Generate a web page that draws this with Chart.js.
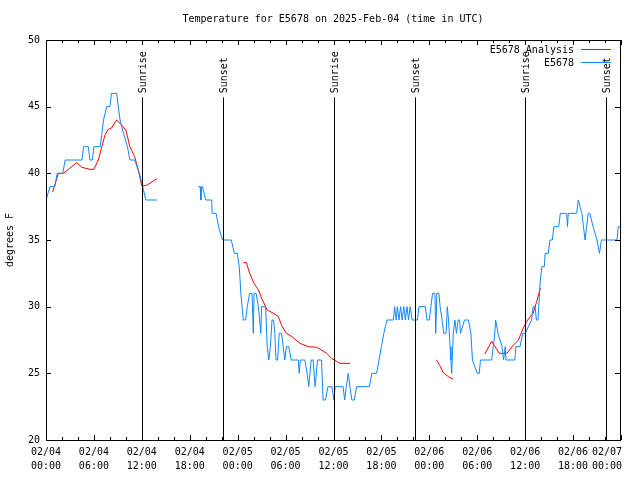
<!DOCTYPE html>
<html>
<head>
<meta charset="utf-8">
<script src="https://cdn.jsdelivr.net/npm/chart.js@4.4.1/dist/chart.umd.min.js"></script>
<style>
	html, body { margin: 0; padding: 0; background: #fff; }
</style>
</head>
<body>
<canvas id="myChart" width="640" height="480"></canvas>
<script>
	// hours since 02/04 00:00 UTC, temperatures in F (null = gap)
	var obsHours = [
		0.0, 0.5, 1.1, 1.4, 2.1, 2.4, 4.5, 4.7, 5.3, 5.5, 5.8, 6.0, 6.8, 7.0, 7.2, 7.6, 8.0, 8.2, 8.85, 9.05,
		9.27, 9.7, 10.2, 10.5, 11.1, 11.7, 12.1, 12.5, 13.9, 16.0,
		19.07, 19.3, 19.4, 19.5, 19.6, 20.0, 20.75, 20.8, 21.3, 21.6, 22.1, 23.2, 23.6, 23.95, 24.2, 24.4, 24.7, 25.0, 25.2, 25.5,
		25.8, 25.96, 26.05, 26.3, 26.6, 26.9, 27.0, 27.5, 27.7, 27.9, 28.1, 28.3, 28.5, 28.65, 28.8, 29.0, 29.2, 29.5, 29.7, 29.9,
		30.1, 30.4, 30.7, 31.6, 31.7, 31.85, 32.4, 32.7, 32.9, 33.2, 33.45, 33.7, 34.0, 34.5, 34.7, 35.0, 35.3, 35.8, 36.06, 36.2,
		37.2, 37.4, 37.6, 37.85, 38.05, 38.3, 38.6, 38.9, 40.5, 40.8, 41.4, 41.7, 42.0, 42.3, 42.7, 43.5, 43.65, 43.85, 44.0, 44.2,
		44.4, 44.6, 44.8, 45.0, 45.2, 45.4, 45.6, 45.85, 46.5, 46.7, 47.5, 47.7, 48.0, 48.2, 48.4, 48.7, 48.8, 48.95, 49.2, 49.35,
		49.6, 49.8, 50.1, 50.25, 50.4, 50.6, 50.7, 50.8, 51.0, 51.2, 51.4, 51.6, 51.8, 51.9, 52.4, 52.9, 53.2, 53.4, 54.0, 54.25,
		54.4, 55.8, 56.0, 56.2, 56.3, 56.6, 57.1, 57.3, 57.5, 57.6, 58.7, 58.85, 59.35, 59.7, 60.0, 60.8, 61.0, 61.25, 61.4, 61.6,
		61.7, 61.9, 62.1, 62.4, 62.5, 62.9, 63.1, 63.4, 63.6, 64.2, 64.4, 65.2, 65.3, 65.4, 66.45, 66.65, 67.1, 67.3, 67.5, 67.7,
		67.9, 68.1, 68.5, 69.0, 69.3, 69.55, 69.8, 71.5, 71.65, 72.0
	];
	var obsTemps = [
		38, 39, 39, 40, 40, 41, 41, 42, 42, 41, 41, 42, 42, 43, 44, 45, 45, 46, 46, 45,
		44, 43, 42, 41, 41, 40, 39, 38, 38, null,
		39, 39, 38, 39, 39, 38, 38, 37, 37, 36, 35, 35, 34, 34, 33, 31, 29, 29, 30, 31,
		31, 28, 31, 31, 30, 28, 30, 30, 27, 26, 27, 29, 29, 28, 26, 26, 28, 28, 27, 26,
		27, 27, 26, 26, 25, 26, 26, 25, 24, 26, 26, 24, 26, 26, 23, 23, 24, 24, 23, 24,
		24, 23, 24, 25, 24, 23, 23, 24, 24, 25, 25, 26, 27, 28, 29, 29, 30, 29, 30, 29,
		30, 29, 30, 29, 30, 29, 30, 29, 29, 30, 30, 29, 29, 30, 31, 31, 28, 31, 31, 30,
		29, 28, 28, 30, 29, 27, 26, 25, 28, 29, 28, 29, 29, 28, 29, 29, 28, 26, 25, 25,
		26, 26, 27, 28, 29, 28, 27, 26, 27, 26, 26, 27, 27, 28, 28, 29, 30, 30, 29, 29,
		30, 32, 33, 33, 34, 34, 35, 35, 36, 36, 37, 37, 36, 37, 37, 38, 37, 36, 35, 36,
		37, 37, 36, 35, 34, 35, 35, 35, 36, 36
	];
	var anaHours = [
		0.83, 1.55, 2.2, 3.0, 3.85, 4.5, 5.5, 6.0, 6.55, 7.0, 7.4, 7.8, 8.2, 8.85, 9.27, 10.0, 10.5, 11.1, 11.55, 12.0,
		12.6, 13.9, 18.0,
		24.7, 25.1, 25.5, 26.05, 26.6, 27.1, 27.7, 28.5, 29.1, 29.5, 30.1, 30.8, 31.8, 32.85, 33.9, 34.5, 35.15, 35.8, 36.4, 36.8,
		38.1, 43.0,
		48.9, 49.3, 49.75, 50.4, 51.0, 53.0,
		54.95, 55.8, 56.76, 57.7, 58.5, 59.15, 59.77, 60.2, 60.7, 61.0, 61.45, 61.9
	];
	var anaTemps = [
		38.6, 40.0, 40.0, 40.4, 40.8, 40.45, 40.3, 40.3, 41.0, 42.0, 42.9, 43.3, 43.4, 44.0, 43.75, 43.25, 42.0, 41.25, 40.25, 39.05,
		39.1, 39.6, null,
		33.3, 33.3, 32.5, 31.75, 31.25, 30.5, 29.75, 29.5, 29.25, 28.6, 28.0, 27.75, 27.25, 27.0, 26.95, 26.75, 26.5, 26.1, 25.9, 25.75,
		25.75, null,
		26.0, 25.6, 25.05, 24.75, 24.55, null,
		26.45, 27.4, 26.5, 26.5, 27.1, 27.5, 28.4, 28.9, 29.3, 29.5, 30.4, 31.4
	];

	var sunHours  = [12.02, 22.16, 36.06, 46.2, 59.98, 70.12];
	var sunLabels = ['Sunrise', 'Sunset', 'Sunrise', 'Sunset', 'Sunrise', 'Sunset'];

	var xTickDates = ['02/04', '02/04', '02/04', '02/04', '02/05', '02/05', '02/05', '02/05', '02/06', '02/06', '02/06', '02/06', '02/07'];
	var xTickTimes = ['00:00', '06:00', '12:00', '18:00', '00:00', '06:00', '12:00', '18:00', '00:00', '06:00', '12:00', '18:00', '00:00'];

	var FONT = '10px "DejaVu Sans Mono", monospace';

	function pairs(xs, ys) {
		return xs.map(function(h, i) { return {x: h, y: ys[i]}; });
	}

	var gnuplotBits = {
		id: 'gnuplotBits',
		afterDraw: function(chart) {
			var ctx = chart.ctx;
			var a = chart.chartArea;
			var xs = chart.scales.x, ys = chart.scales.y;
			ctx.save();
			ctx.strokeStyle = '#000';
			ctx.lineWidth = 1;
			ctx.strokeRect(Math.round(a.left) + 0.5, Math.round(a.top) + 0.5, Math.round(a.right - a.left) - 1, Math.round(a.bottom - a.top));

			ctx.beginPath();
			for (var v = 20; v <= 50; v += 5) {
				var py = Math.round(ys.getPixelForValue(v)) + 0.5;
				ctx.moveTo(a.left, py); ctx.lineTo(a.left + 5, py);
				ctx.moveTo(a.right - 6, py); ctx.lineTo(a.right - 1, py);
			}
			for (var h = 0; h <= 72; h += 2) {
				var px = Math.round(xs.getPixelForValue(h)) + 0.5;
				var len = (h % 6 === 0) ? 5 : 3;
				ctx.moveTo(px, a.bottom); ctx.lineTo(px, a.bottom - len);
				ctx.moveTo(px, a.top); ctx.lineTo(px, a.top + len);
			}
			ctx.stroke();

			// last x label is pulled inside the canvas, like gnuplot does
			ctx.font = FONT;
			ctx.fillStyle = '#000';
			ctx.textAlign = 'right';
			ctx.textBaseline = 'middle';
			var last = xTickDates.length - 1;
			ctx.fillText(xTickDates[last], a.right + 1, a.bottom + 12);
			ctx.fillText(xTickTimes[last], a.right + 1, a.bottom + 26);

			// sunrise / sunset markers
			var lineTop = ys.getPixelForValue(45.7);
			sunHours.forEach(function(h, i) {
				var px = Math.round(xs.getPixelForValue(h)) + 0.5;
				ctx.beginPath();
				ctx.moveTo(px, lineTop);
				ctx.lineTo(px, a.bottom);
				ctx.stroke();
				ctx.save();
				ctx.translate(px + 1, lineTop - 4);
				ctx.rotate(-Math.PI / 2);
				ctx.textAlign = 'left';
				ctx.textBaseline = 'middle';
				ctx.fillText(sunLabels[i], 0, 0);
				ctx.restore();
			});

			// key
			var keys = [['E5678 Analysis', '#ff0000'], ['E5678', '#0f87ff']];
			keys.forEach(function(k, i) {
				var ky = 49.5 + i * 13;
				ctx.textAlign = 'right';
				ctx.textBaseline = 'middle';
				ctx.fillStyle = '#000';
				ctx.fillText(k[0], 574, ky + 1);
				ctx.strokeStyle = k[1];
				ctx.beginPath();
				ctx.moveTo(581, ky); ctx.lineTo(611, ky);
				ctx.stroke();
			});

			// title and y label
			ctx.fillStyle = '#000';
			ctx.textAlign = 'center';
			ctx.textBaseline = 'middle';
			ctx.fillText('Temperature for E5678 on 2025-Feb-04 (time in UTC)', 333, 19);
			ctx.save();
			ctx.translate(10, 240);
			ctx.rotate(-Math.PI / 2);
			ctx.fillText('degrees F', 0, 0);
			ctx.restore();
			ctx.restore();
		}
	};

	var ctx = document.getElementById('myChart').getContext('2d');
	var myChart = new Chart(ctx, {
		type: 'line',
		data: {
			datasets: [{
				label: 'E5678',
				data: pairs(obsHours, obsTemps),
				borderColor: '#0f87ff',
				borderWidth: 1,
				pointRadius: 0,
				tension: 0,
				spanGaps: false,
				order: 0
			}, {
				label: 'E5678 Analysis',
				data: pairs(anaHours, anaTemps),
				borderColor: '#ff0000',
				borderWidth: 1,
				pointRadius: 0,
				tension: 0,
				spanGaps: false,
				order: 1
			}]
		},
		options: {
			responsive: false,
			animation: false,
			layout: { padding: { top: 40, right: 19, left: 0, bottom: 0 } },
			plugins: { legend: { display: false }, tooltip: { enabled: false }, title: { display: false } },
			scales: {
				x: {
					type: 'linear',
					min: 0,
					max: 72,
					grid: { display: false, drawTicks: false },
					border: { display: false },
					afterFit: function(scale) { scale.height = 40; },
					ticks: {
						stepSize: 6,
						autoSkip: false,
						maxRotation: 0,
						padding: 5,
						color: '#000',
						font: { family: '"DejaVu Sans Mono", monospace', size: 10, lineHeight: 1.4 },
						callback: function(v) {
							var i = Math.round(v / 6);
							if (i === xTickDates.length - 1) return ['', ''];
							return [xTickDates[i], xTickTimes[i]];
						}
					}
				},
				y: {
					min: 20,
					max: 50,
					grid: { display: false, drawTicks: false },
					border: { display: false },
					afterFit: function(scale) { scale.width = 46; },
					ticks: {
						stepSize: 5,
						padding: 6,
						color: '#000',
						font: { family: '"DejaVu Sans Mono", monospace', size: 10 }
					}
				}
			}
		},
		plugins: [gnuplotBits]
	});
</script>
</body>
</html>
